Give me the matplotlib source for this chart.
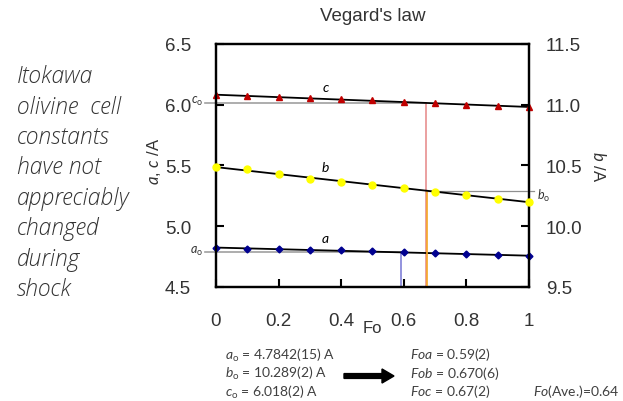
import numpy as np
import matplotlib.pyplot as plt
from matplotlib.patches import FancyArrow

# composition (mole fraction forsterite)
fo = [0.0, 0.1, 0.2, 0.3, 0.4, 0.5, 0.6, 0.7, 0.8, 0.9, 1.0]

# olivine cell constants along the Fo-Fa join (A)
a_vals = [4.821, 4.815, 4.811, 4.805, 4.801, 4.796, 4.788, 4.780, 4.768, 4.762, 4.755]
b_vals = [10.485, 10.47, 10.43, 10.39, 10.367, 10.34, 10.315, 10.282, 10.26, 10.224, 10.202]
c_vals = [6.080, 6.072, 6.062, 6.052, 6.044, 6.035, 6.025, 6.012, 6.000, 5.993, 5.978]

# Itokawa cell constants and the Fo values
a0, b0, c0 = 4.7842, 10.289, 6.018
fo_a, fo_b, fo_c = 0.59, 0.670, 0.67

left_text = ["Itokawa", "olivine  cell", "constants", "have not",
             "appreciably", "changed", "during", "shock"]
const_lines = [r"$a_{\rm o}$ = 4.7842(15) A", r"$b_{\rm o}$ = 10.289(2) A",
               r"$c_{\rm o}$ = 6.018(2) A"]
fo_lines = [r"$Foa$ = 0.59(2)", r"$Fob$ = 0.670(6)", r"$Foc$ = 0.67(2)"]

plt.rcParams['font.family'] = ['Liberation Sans', 'DejaVu Sans']
plt.rcParams['mathtext.fontset'] = 'custom'
plt.rcParams['mathtext.it'] = 'Lato:italic'
plt.rcParams['mathtext.rm'] = 'Lato'

fig = plt.figure(figsize=(6.23, 4.02), dpi=100)
ax = fig.add_axes([0.3467, 0.2836, 0.5024, 0.6045])
ax2 = ax.twinx()

ax.set_xlim(0, 1)
ax.set_ylim(4.5, 6.5)
ax2.set_ylim(9.5, 11.5)

x = np.array(fo)

# linear Vegard fits
for vals, axis in [(a_vals, ax), (c_vals, ax), (b_vals, ax2)]:
    p = np.polyfit(x, vals, 1)
    xx = np.array([0, 1])
    axis.plot(xx, np.polyval(p, xx), color='black', lw=1.3, zorder=3)

# reference lines for the measured constants
ax.plot([-0.035, fo_c], [c0, c0], color='#a0a0a0', lw=1.2, clip_on=False, zorder=2)
ax.plot([fo_c, fo_c], [4.5, c0], color='#e89090', lw=1.2, zorder=2)
ax2.plot([fo_b, 1.015], [b0, b0], color='#909090', lw=0.9, clip_on=False, zorder=2)
ax2.plot([fo_b + 0.004, fo_b + 0.004], [9.5, b0], color='#f5a623', lw=1.2, zorder=2)
ax.plot([-0.035, fo_a], [a0, a0], color='#a0a0a0', lw=1.2, clip_on=False, zorder=2)
ax.plot([fo_a, fo_a], [4.5, a0], color='#8080d8', lw=1.2, zorder=2)

# data points
ax.plot(x, c_vals, ls='none', marker='^', ms=5, color='#c00000', zorder=4, clip_on=False)
ax2.plot(x, b_vals, ls='none', marker='o', ms=5, color='#ffff00', zorder=4, clip_on=False)
ax.plot(x, a_vals, ls='none', marker='D', ms=3.5, color='#000090', zorder=4, clip_on=False)

# series labels
ax.text(0.35, 6.15, 'c', style='italic', fontsize=10, ha='center', va='center', family='Lato')
ax.text(0.35, 5.49, 'b', style='italic', fontsize=10, ha='center', va='center', family='Lato')
ax.text(0.35, 4.90, 'a', style='italic', fontsize=10, ha='center', va='center', family='Lato')
ax.text(-0.04, c0 + 0.02, r'$c_{\rm o}$', fontsize=9, ha='right', va='center', color='#333333')
ax.text(-0.04, a0 + 0.02, r'$a_{\rm o}$', fontsize=9, ha='right', va='center', color='#333333')
ax2.text(1.025, b0 - 0.03, r'$b_{\rm o}$', fontsize=9, ha='left', va='center', color='#333333')

# axes styling
for axis in (ax, ax2):
    for s in axis.spines.values():
        s.set_linewidth(1.6)
ax.set_xticks([0, 0.2, 0.4, 0.6, 0.8, 1.0])
ax.set_xticklabels(['0', '0.2', '0.4', '0.6', '0.8', '1'])
ax.set_yticks([4.5, 5.0, 5.5, 6.0, 6.5])
ax.set_yticklabels(['4.5', '5.0', '5.5', '6.0', '6.5'])
ax2.set_yticks([9.5, 10.0, 10.5, 11.0, 11.5])
ax2.set_yticklabels(['9.5', '10.0', '10.5', '11.0', '11.5'])
ax.tick_params(axis='x', direction='in', length=6, width=1.5, labelsize=13.5, pad=18,
               labelcolor='#333333')
ax.tick_params(axis='y', direction='in', length=6, width=1.5, labelsize=13.5, pad=18,
               labelcolor='#333333')
ax2.tick_params(axis='y', direction='in', length=6, width=1.5, labelsize=13.5, pad=12,
                labelcolor='#333333')

ax.set_xlabel('Fo', fontsize=12, color='#333333')
ax.xaxis.set_label_coords(0.5, -0.135)
ax.set_ylabel(r'$a$, $c$ /A', fontsize=12, color='#333333')
ax.yaxis.set_label_coords(-0.17, 0.52)
ax2.set_ylabel(r'$b$ /A', fontsize=12, color='#333333', rotation=270, labelpad=18)
ax.set_title("Vegard's law", fontsize=13.5, color='#333333', pad=17)

# side note
for i, line in enumerate(left_text):
    fig.text(0.027, 1 - (77 + 30.5 * i) / 402, line, fontsize=16.5, style='italic',
             family='Open Sans', weight='light', color='#333333', va='center', ha='left')

# constants and derived compositions
for i, (s1, s2) in enumerate(zip(const_lines, fo_lines)):
    yy = 1 - (355 + 18.5 * i) / 402
    fig.text(225 / 623, yy, s1, fontsize=10, family='Lato', color='#404040', va='center')
    fig.text(410 / 623, yy, s2, fontsize=10, family='Lato', color='#404040', va='center')
fig.text(533 / 623, 1 - 392 / 402, r'$Fo$(Ave.)=0.64', fontsize=10, family='Lato',
         color='#404040', va='center')
fig.patches.append(FancyArrow(
    344 / 623, 1 - 377 / 402, 38 / 623, 0, width=0.012, head_width=0.035,
    head_length=12 / 623, color='black', transform=fig.transFigure, figure=fig))

fig.savefig('out.png', dpi=100)
